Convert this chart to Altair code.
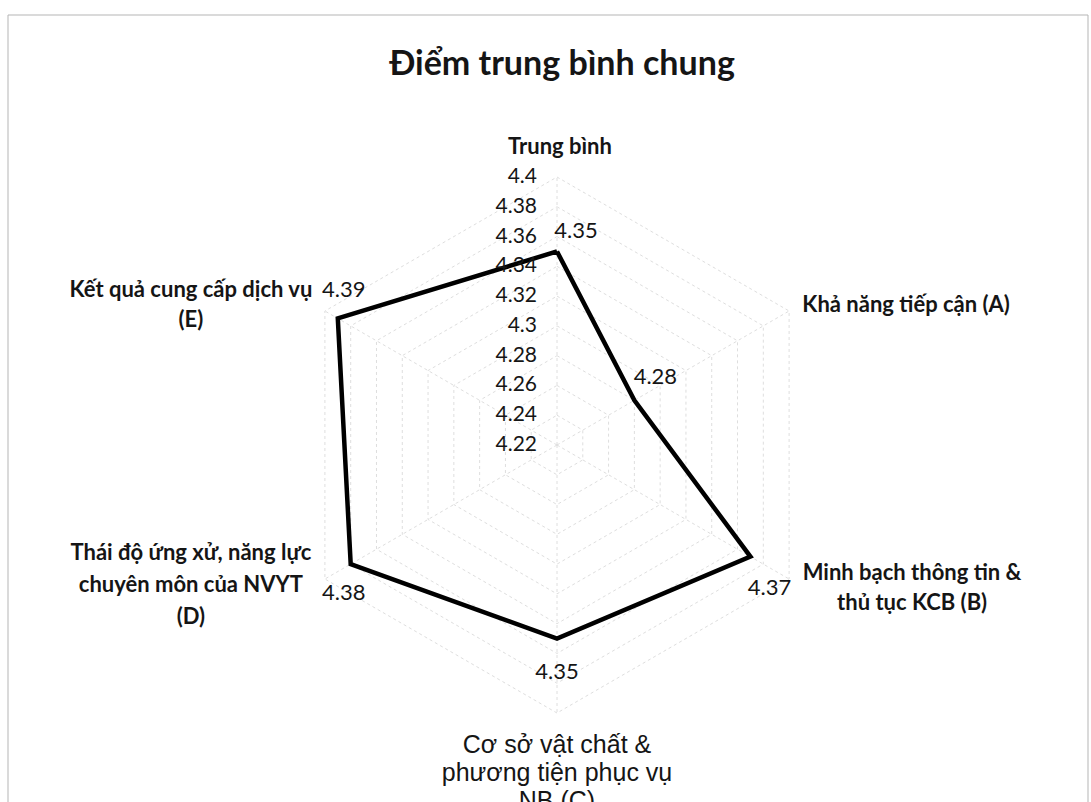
import math
import altair as alt
import pandas as pd

# ---------------- data ----------------
categories = [
    "Trung bình",
    "Khả năng tiếp cận (A)",
    "Minh bạch thông tin &\nthủ tục KCB (B)",
    "Cơ sở vật chất &\nphương tiện phục vụ\nNB (C)",
    "Thái độ ứng xử, năng lực\nchuyên môn của NVYT\n(D)",
    "Kết quả cung cấp dịch vụ\n(E)",
]
values = [4.35, 4.28, 4.37, 4.35, 4.38, 4.39]
value_labels = ["4.35", "4.28", "4.37", "4.35", "4.38", "4.39"]
tick_values = [4.22, 4.24, 4.26, 4.28, 4.30, 4.32, 4.34, 4.36, 4.38, 4.40]
tick_labels = ["4.22", "4.24", "4.26", "4.28", "4.3", "4.32", "4.34", "4.36", "4.38", "4.4"]

# ---------------- layout ----------------
W, H = 1091, 802
CX, CY = 557, 445          # centre in pixels
PX = 268                   # pixels per unit radius
RMIN, RMAX = 4.22, 4.40
# label offsets (pixels) relative to data point / outer vertex (first line)
value_off = [(19, -20), (21, -23), (19, 31), (0, 33), (-7, 29), (6, -28)]
cat_off = [(3, -30), (117, -6), (123, -6), (0, 32), (-134, -26), (-134, -21)]
cat_lh = [30, 30, 30, 28, 32, 30]
tick_dx = -20

xdom = [-CX / PX, (W - CX) / PX]
ydom = [-(H - CY) / PX, CY / PX]
xs = alt.Scale(domain=xdom, nice=False, zero=False)
ys = alt.Scale(domain=ydom, nice=False, zero=False)

n = len(categories)


def rad(v):
    return (v - RMIN) / (RMAX - RMIN)


def pos(i, r):
    a = 2 * math.pi * i / n
    return r * math.sin(a), r * math.cos(a)


# series polygon
series_rows = []
for k in range(n + 1):
    i = k % n
    x, y = pos(i, rad(values[i]))
    series_rows.append({"x": x, "y": y, "o": k})
series_df = pd.DataFrame(series_rows)

# value labels
vl_rows = []
for i in range(n):
    x, y = pos(i, rad(values[i]))
    dx, dy = value_off[i]
    vl_rows.append({"x": x + dx / PX, "y": y - dy / PX, "t": value_labels[i]})
vl_df = pd.DataFrame(vl_rows)

# grid rings
ring_rows = []
for tv in tick_values[1:]:
    for k in range(n + 1):
        x, y = pos(k % n, rad(tv))
        ring_rows.append({"x": x, "y": y, "o": k, "ring": str(tv)})
ring_df = pd.DataFrame(ring_rows)

# spokes
spoke_rows = []
for i in range(n):
    x, y = pos(i, 1.0)
    spoke_rows.append({"x": 0.0, "y": 0.0, "x2": x, "y2": y})
spoke_df = pd.DataFrame(spoke_rows)

# tick labels
tick_df = pd.DataFrame({
    "x": [tick_dx / PX] * len(tick_values),
    "y": [rad(v) for v in tick_values],
    "t": tick_labels,
})

# category labels
cat_rows = []
for i in range(n):
    x, y = pos(i, 1.0)
    dx, dy = cat_off[i]
    cat_rows.append({"x": x + dx / PX, "y": y - dy / PX, "t": categories[i], "i": i})
cat_df = pd.DataFrame(cat_rows)

FONT = "Lato"
GRID = "#dedede"
TXT = "#151515"

X = alt.X("x:Q", scale=xs, axis=None)
Y = alt.Y("y:Q", scale=ys, axis=None)

rings = alt.Chart(ring_df).mark_line(color=GRID, strokeWidth=1, strokeDash=[3, 3]).encode(
    x=X, y=Y, detail="ring:N", order="o:Q",
)
spokes = alt.Chart(spoke_df).mark_rule(color=GRID, strokeWidth=1, strokeDash=[3, 3]).encode(
    x=X, y=Y, x2="x2:Q", y2="y2:Q",
)
line = alt.Chart(series_df).mark_line(color="black", strokeWidth=4.5, strokeJoin="miter").encode(
    x=X, y=Y, order="o:Q",
)
ticks = alt.Chart(tick_df).mark_text(align="right", baseline="middle", font=FONT,
                                     fontSize=21, color=TXT).encode(
    x=X, y=Y, text="t:N",
)
vlabels = alt.Chart(vl_df).mark_text(align="center", baseline="middle", font=FONT,
                                     fontSize=22, color=TXT).encode(
    x=X, y=Y, text="t:N",
)
clayers = []
for i in range(n):
    if i == 3:
        mk = alt.Chart(cat_df).transform_filter(f"datum.i == {i}").mark_text(
            align="center", baseline="middle", font="Liberation Sans", fontSize=25,
            lineBreak="\n", lineHeight=cat_lh[i], color=TXT)
    else:
        mk = alt.Chart(cat_df).transform_filter(f"datum.i == {i}").mark_text(
            align="center", baseline="middle", font=FONT, fontSize=22, fontWeight="bold",
            lineBreak="\n", lineHeight=cat_lh[i], color=TXT)
    clayers.append(mk.encode(x=X, y=Y, text="t:N"))

title = alt.Chart(pd.DataFrame({"t": ["Điểm trung bình chung"]})).mark_text(
    align="center", baseline="middle", font=FONT, fontSize=34, fontWeight="bold",
    color=TXT).encode(
    x=alt.value(562), y=alt.value(65), text="t:N")
frame = alt.Chart(pd.DataFrame({"a": [0]})).mark_rect(
    fill=None, stroke="#b5b5b5", strokeWidth=1).encode(
    x=alt.value(8), x2=alt.value(1088), y=alt.value(15), y2=alt.value(830))

chart = alt.layer(frame, rings, spokes, line, ticks, vlabels, *clayers, title).properties(
    width=W, height=H, padding=0, autosize=alt.AutoSizeParams(type="none"),
    background="white",
).configure_view(stroke=None)

chart.save("out.html", embed_options={"renderer": "svg", "actions": False})
